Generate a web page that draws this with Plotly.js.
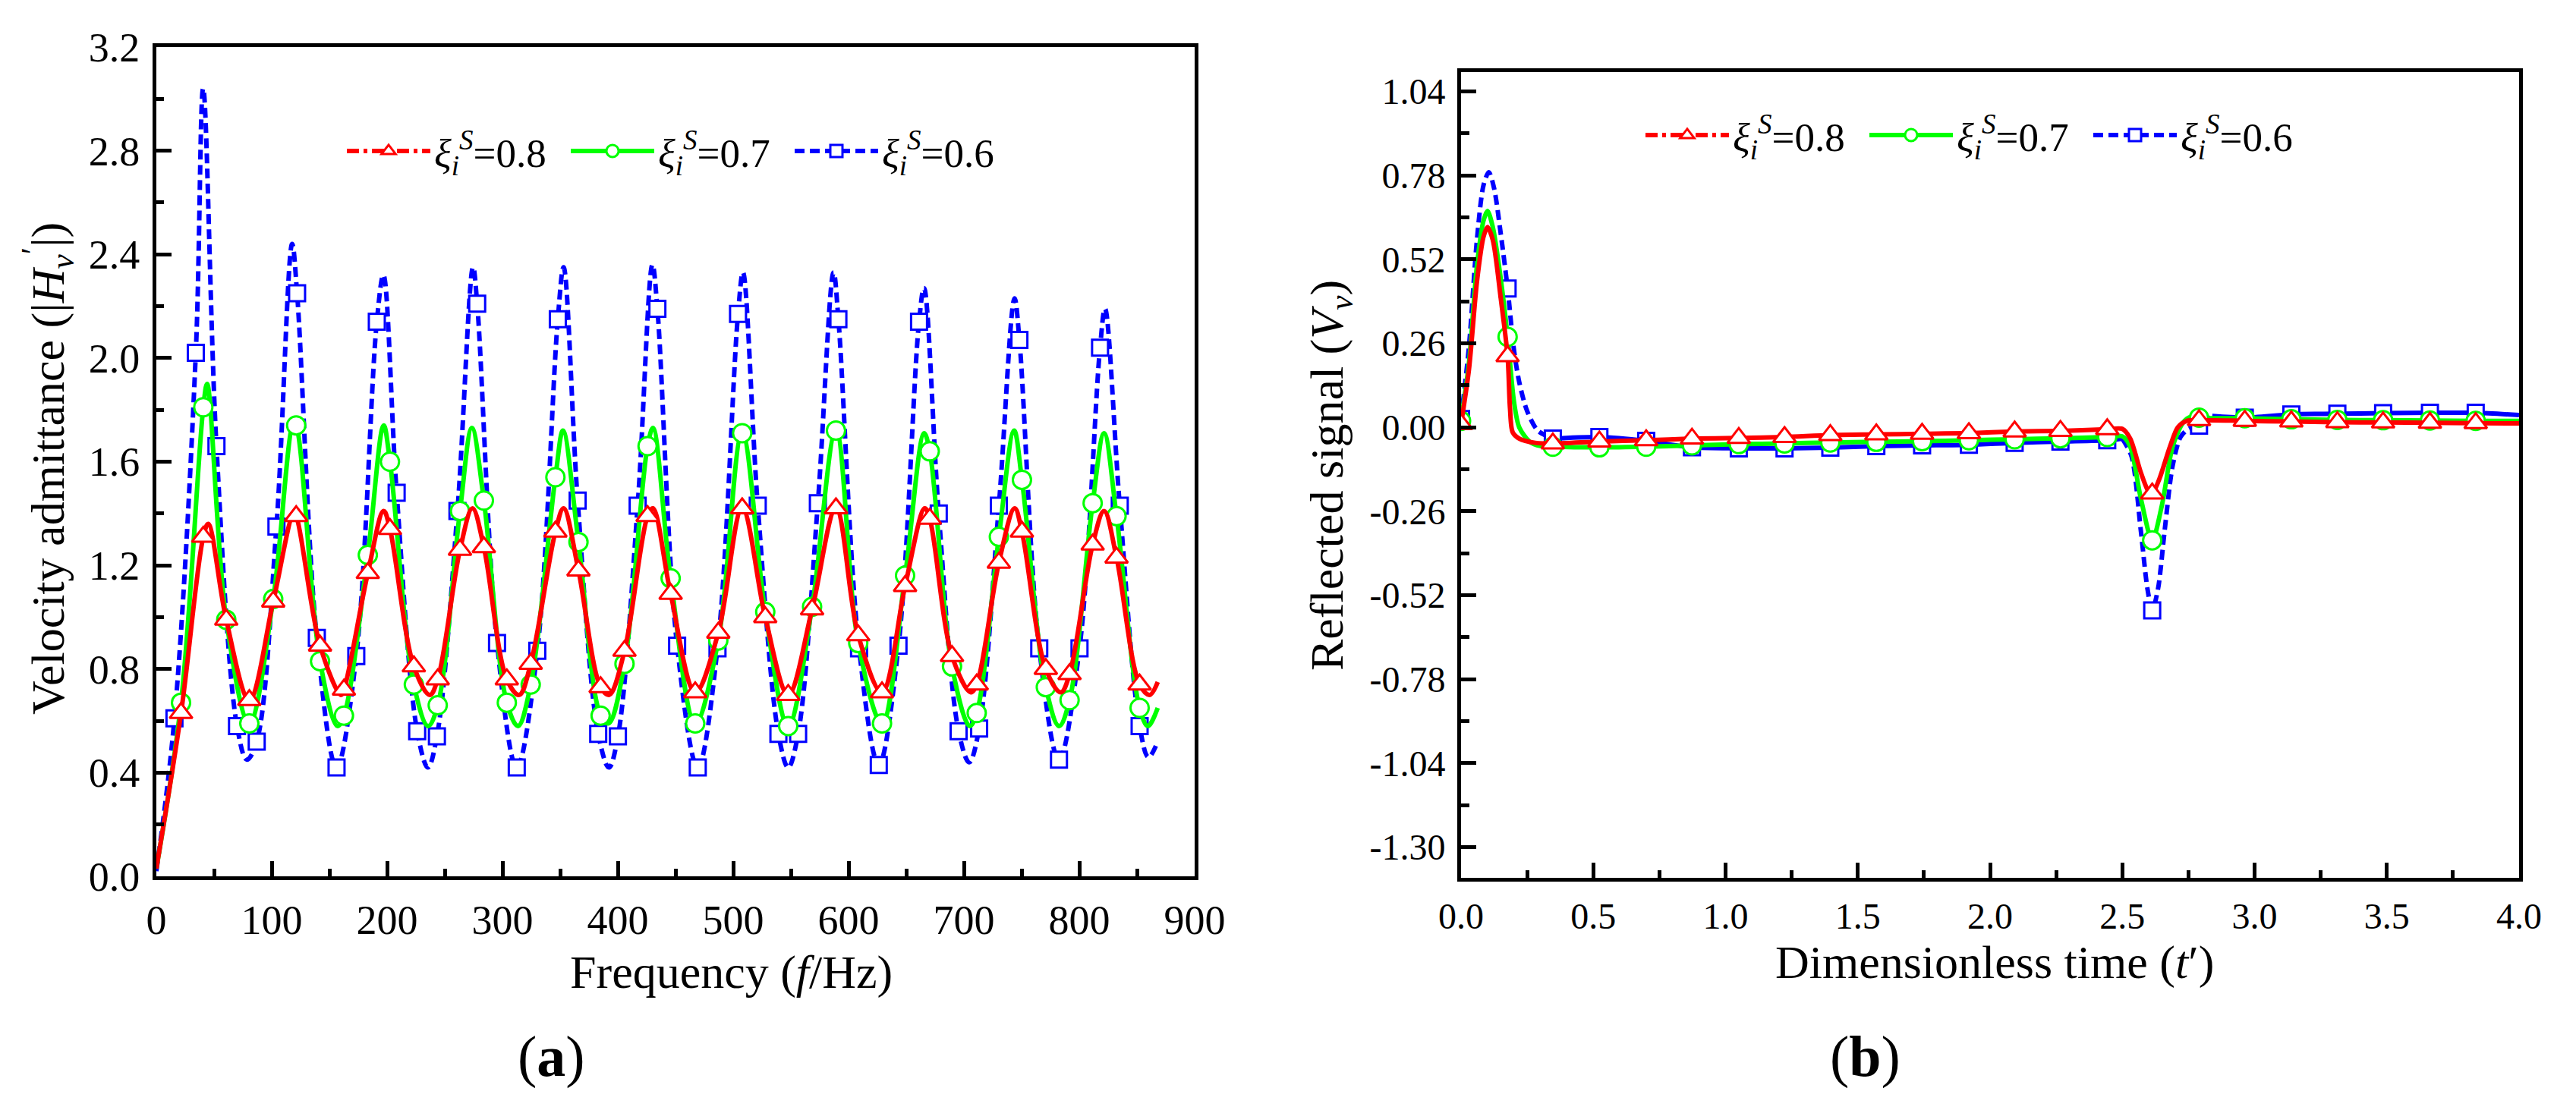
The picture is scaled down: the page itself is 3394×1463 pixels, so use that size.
<!DOCTYPE html>
<html><head><meta charset="utf-8">
<script src="https://cdn.plot.ly/plotly-3.0.1.min.js"></script>
<style>html,body{margin:0;padding:0;background:#fff}</style>
</head><body>
<div id="chart" style="width:3394px;height:1463px"></div>
<script>
// ================= Panel (a): velocity admittance vs frequency =================
const freqMarkRG = [21.4, 40.7, 60.6, 80.6, 101.3, 121.2, 141.9, 162.6, 183.3, 202.5, 223.2, 243.9, 263.2, 283.9, 303.8, 324.5, 345.9, 365.9, 385.1, 405.8, 425.8, 445.8, 467.1, 487.1, 507.8, 527.8, 547.7, 568.4, 589.1, 608.4, 629.0, 649.0, 670.4, 689.7, 711.1, 730.3, 750.3, 771.0, 791.6, 811.6, 832.3, 852.3];
const markRed08 = [0.63, 1.31, 0.99, 0.68, 1.06, 1.39, 0.89, 0.72, 1.17, 1.34, 0.81, 0.76, 1.26, 1.27, 0.76, 0.82, 1.33, 1.18, 0.73, 0.87, 1.39, 1.09, 0.71, 0.94, 1.42, 1.00, 0.70, 1.03, 1.42, 0.93, 0.71, 1.12, 1.38, 0.85, 0.74, 1.21, 1.33, 0.80, 0.78, 1.28, 1.23, 0.74];
const markGreen07 = [0.67, 1.81, 0.99, 0.59, 1.07, 1.74, 0.83, 0.62, 1.24, 1.60, 0.74, 0.66, 1.41, 1.45, 0.67, 0.74, 1.54, 1.29, 0.62, 0.82, 1.66, 1.15, 0.59, 0.91, 1.71, 1.02, 0.58, 1.04, 1.72, 0.90, 0.59, 1.16, 1.64, 0.81, 0.63, 1.31, 1.53, 0.73, 0.68, 1.44, 1.39, 0.65];
const freqMarkBlue = [15.7, 34.2, 52.1, 69.9, 87.0, 104.1, 122.0, 139.1, 156.2, 173.3, 191.1, 208.3, 226.1, 243.2, 261.0, 278.1, 295.3, 312.4, 330.2, 348.0, 365.2, 383.0, 400.1, 417.2, 434.3, 451.4, 469.3, 486.4, 504.2, 521.3, 539.2, 556.3, 573.4, 591.2, 609.1, 626.2, 643.3, 661.1, 678.2, 695.4, 713.2, 730.3, 748.1, 765.3, 782.4, 800.2, 818.0, 835.1, 852.3];
const markBlue06 = [0.61, 2.02, 1.66, 0.58, 0.52, 1.35, 2.25, 0.92, 0.42, 0.85, 2.14, 1.48, 0.56, 0.54, 1.41, 2.21, 0.90, 0.42, 0.87, 2.15, 1.45, 0.55, 0.54, 1.43, 2.19, 0.89, 0.42, 0.88, 2.17, 1.43, 0.55, 0.55, 1.44, 2.15, 0.88, 0.43, 0.89, 2.14, 1.40, 0.56, 0.57, 1.43, 2.07, 0.88, 0.45, 0.88, 2.04, 1.43, 0.58];

// extra points of the curves (peaks, troughs, ends)
const keyFreqRed = [0, 45.0, 119.0, 160.0, 197.0, 237.0, 274.0, 314.5, 353.0, 392.5, 430.5, 666.0, 706.0, 744.0, 784.0, 821.5, 861.0, 868.0];
const keyRed08 = [0.03, 1.36, 1.40, 0.70, 1.41, 0.70, 1.42, 0.70, 1.42, 0.70, 1.42, 1.42, 0.71, 1.42, 0.71, 1.41, 0.70, 0.75];
const keyFreqGreen = [0, 44.0, 119.0, 157.0, 197.0, 235.5, 273.5, 313.5, 352.5, 392.0, 430.5, 665.5, 705.0, 743.5, 782.5, 821.5, 859.5, 868.0];
const keyGreen07 = [0.03, 1.90, 1.75, 0.58, 1.74, 0.58, 1.73, 0.58, 1.72, 0.59, 1.73, 1.71, 0.58, 1.72, 0.58, 1.71, 0.58, 0.65];
const keyFreqBlue = [0, 40.6, 78.5, 117.7, 196.8, 235.4, 274.5, 353.0, 392.3, 430.0, 508.5, 547.7, 587.0, 665.4, 704.6, 743.9, 822.3, 860.0, 868.0];
const keyBlue06 = [0.02, 3.04, 0.45, 2.44, 2.32, 0.42, 2.35, 2.35, 0.42, 2.36, 2.33, 0.42, 2.33, 2.27, 0.44, 2.23, 2.19, 0.46, 0.52];

// ================= Panel (b): reflected signal vs dimensionless time =================
const timeMark = [0.0, 0.176, 0.347, 0.523, 0.700, 0.873, 1.050, 1.223, 1.396, 1.570, 1.743, 1.920, 2.093, 2.266, 2.443, 2.613, 2.790, 2.963, 3.139, 3.313, 3.486, 3.663, 3.836];
const sigMarkRed08 = [0.01, 0.22, -0.05, -0.044, -0.04, -0.035, -0.033, -0.03, -0.024, -0.022, -0.02, -0.018, -0.013, -0.011, -0.006, -0.205, 0.022, 0.02, 0.018, 0.016, 0.015, 0.014, 0.013];
const sigMarkGreen07 = [0.02, 0.28, -0.06, -0.062, -0.06, -0.056, -0.052, -0.05, -0.047, -0.045, -0.043, -0.04, -0.037, -0.034, -0.03, -0.35, 0.03, 0.028, 0.025, 0.023, 0.022, 0.021, 0.02];
const sigMarkBlue06 = [0.026, 0.43, -0.035, -0.03, -0.042, -0.062, -0.065, -0.065, -0.063, -0.058, -0.056, -0.054, -0.048, -0.044, -0.04, -0.567, 0.005, 0.03, 0.04, 0.042, 0.044, 0.045, 0.045];

const keyTimeRed = [0.03, 0.06, 0.085, 0.10, 0.12, 0.15, 0.185, 0.195, 0.22, 0.28, 2.50, 2.53, 2.57, 2.60, 2.64, 2.68, 2.71, 2.745, 4.0];
const keySigRed08 = [0.18, 0.45, 0.59, 0.62, 0.58, 0.40, 0.06, -0.015, -0.035, -0.048, -0.005, -0.035, -0.14, -0.20, -0.16, -0.06, 0.0, 0.02, 0.012];
const keyTimeGreen = [0.03, 0.06, 0.085, 0.10, 0.12, 0.15, 0.20, 0.22, 0.26, 0.30, 2.50, 2.53, 2.57, 2.65, 2.69, 2.73, 2.76, 2.85, 4.0];
const keySigGreen07 = [0.20, 0.50, 0.64, 0.67, 0.62, 0.46, 0.08, 0.0, -0.045, -0.058, -0.028, -0.06, -0.22, -0.24, -0.06, 0.015, 0.033, 0.028, 0.02];
const keyTimeBlue = [0.03, 0.06, 0.085, 0.105, 0.125, 0.15, 0.20, 0.22, 0.25, 0.29, 2.50, 2.535, 2.57, 2.595, 2.635, 2.66, 2.69, 2.72, 2.75, 2.84, 4.0];
const keySigBlue06 = [0.25, 0.58, 0.75, 0.79, 0.74, 0.60, 0.24, 0.14, 0.05, -0.01, -0.035, -0.09, -0.32, -0.50, -0.50, -0.32, -0.12, -0.03, -0.005, 0.035, 0.038];

// tick labels
const tickValsB = [1.04, 0.78, 0.52, 0.26, 0.00, -0.26, -0.52, -0.78, -1.04, -1.30];
const tickTextB = ['1.04', '0.78', '0.52', '0.26', '0.00', '-0.26', '-0.52', '-0.78', '-1.04', '-1.30'];

const legendLabels = [
  '<i>ξ</i><sub><i>i</i></sub><sup><i>S</i></sup>=0.8',
  '<i>ξ</i><sub><i>i</i></sub><sup><i>S</i></sup>=0.7',
  '<i>ξ</i><sub><i>i</i></sub><sup><i>S</i></sup>=0.6'
];

// ================= helpers =================
function mergeSorted(xa, ya, xb, yb) {
  const pts = [];
  xa.forEach((x, i) => pts.push([x, ya[i]]));
  xb.forEach((x, i) => pts.push([x, yb[i]]));
  pts.sort((p, q) => p[0] - q[0]);
  return { x: pts.map(p => p[0]), y: pts.map(p => p[1]) };
}
function slice(c, lo, hi) {
  const x = [], y = [];
  c.x.forEach((v, i) => { if (v >= lo && v <= hi) { x.push(v); y.push(c.y[i]); } });
  return { x, y };
}

const RED = '#FF0000', GREEN = '#00FF00', BLUE = '#0000FF';
const FONT = 'Liberation Serif, Times New Roman, serif';
const BLUE_DASH = '13px,7px';
const RED_DASH = '16px,6px,5px,6px';

const mk = {
  red:   { symbol: 'triangle-up', size: 26, color: '#fff', line: { color: RED, width: 3 } },
  green: { symbol: 'circle', size: 24, color: '#fff', line: { color: GREEN, width: 3 } },
  blue:  { symbol: 'square', size: 21, color: '#fff', line: { color: BLUE, width: 3 } }
};

const traces = [];

// ---- panel a curves ----
const aRed = mergeSorted(freqMarkRG, markRed08, keyFreqRed, keyRed08);
const aGreen = mergeSorted(freqMarkRG, markGreen07, keyFreqGreen, keyGreen07);
const aBlue = mergeSorted(freqMarkBlue, markBlue06, keyFreqBlue, keyBlue06);

traces.push({ x: aBlue.x, y: aBlue.y, xaxis: 'x', yaxis: 'y', mode: 'lines', showlegend: false,
  line: { color: BLUE, width: 6, dash: BLUE_DASH, shape: 'spline', smoothing: 1 } });
traces.push({ x: freqMarkBlue, y: markBlue06, xaxis: 'x', yaxis: 'y', mode: 'markers', showlegend: false, marker: mk.blue });
traces.push({ x: aGreen.x, y: aGreen.y, xaxis: 'x', yaxis: 'y', mode: 'lines', showlegend: false,
  line: { color: GREEN, width: 6, shape: 'spline', smoothing: 1 } });
traces.push({ x: freqMarkRG, y: markGreen07, xaxis: 'x', yaxis: 'y', mode: 'markers', showlegend: false, marker: mk.green });
traces.push({ x: aRed.x, y: aRed.y, xaxis: 'x', yaxis: 'y', mode: 'lines', showlegend: false,
  line: { color: RED, width: 6, shape: 'spline', smoothing: 1 } });
traces.push({ x: freqMarkRG, y: markRed08, xaxis: 'x', yaxis: 'y', mode: 'markers', showlegend: false, marker: mk.red });

// ---- panel b curves ----
const bRed = mergeSorted(timeMark, sigMarkRed08, keyTimeRed, keySigRed08);
const bGreen = mergeSorted(timeMark, sigMarkGreen07, keyTimeGreen, keySigGreen07);
const bBlue = mergeSorted(timeMark, sigMarkBlue06, keyTimeBlue, keySigBlue06);

[[0, 0.35, true], [0.347, 2.50, false], [2.50, 2.84, true], [2.84, 4.0, false]].forEach(seg => {
  const s = slice(bBlue, seg[0], seg[1]);
  traces.push({ x: s.x, y: s.y, xaxis: 'x2', yaxis: 'y2', mode: 'lines', showlegend: false,
    line: { color: BLUE, width: 6, dash: seg[2] ? BLUE_DASH : 'solid', shape: 'spline', smoothing: 0.8 } });
});
traces.push({ x: timeMark, y: sigMarkBlue06, xaxis: 'x2', yaxis: 'y2', mode: 'markers', showlegend: false, marker: mk.blue });
traces.push({ x: bGreen.x, y: bGreen.y, xaxis: 'x2', yaxis: 'y2', mode: 'lines', showlegend: false,
  line: { color: GREEN, width: 6, shape: 'spline', smoothing: 0.8 } });
traces.push({ x: timeMark, y: sigMarkGreen07, xaxis: 'x2', yaxis: 'y2', mode: 'markers', showlegend: false, marker: mk.green });
traces.push({ x: bRed.x, y: bRed.y, xaxis: 'x2', yaxis: 'y2', mode: 'lines', showlegend: false,
  line: { color: RED, width: 6, shape: 'spline', smoothing: 0.8 } });
traces.push({ x: timeMark, y: sigMarkRed08, xaxis: 'x2', yaxis: 'y2', mode: 'markers', showlegend: false, marker: mk.red });

// ---- legend entries (line + marker symbol) ----
[['x', 'y', 'legend'], ['x2', 'y2', 'legend2']].forEach(ax => {
  traces.push({ x: [null], y: [null], xaxis: ax[0], yaxis: ax[1], legend: ax[2], name: legendLabels[0], legendrank: 1,
    mode: 'lines+markers', line: { color: RED, width: 6, dash: RED_DASH }, marker: mk.red });
  traces.push({ x: [null], y: [null], xaxis: ax[0], yaxis: ax[1], legend: ax[2], name: legendLabels[1], legendrank: 2,
    mode: 'lines+markers', line: { color: GREEN, width: 6 }, marker: mk.green });
  traces.push({ x: [null], y: [null], xaxis: ax[0], yaxis: ax[1], legend: ax[2], name: legendLabels[2], legendrank: 3,
    mode: 'lines+markers', line: { color: BLUE, width: 6, dash: BLUE_DASH }, marker: mk.blue });
});

const W = 3394, H = 1463;
const px = v => v / W, py = v => 1 - v / H;

function axis(extra) {
  return Object.assign({
    showline: true, linewidth: 5, linecolor: '#000', mirror: true,
    ticks: 'inside', ticklen: 20, tickwidth: 5, tickcolor: '#000',
    showgrid: false, zeroline: false, fixedrange: true,
    tickfont: { family: FONT, size: 54, color: '#000' }
  }, extra);
}
const minorTick = (d, t0) => ({ ticks: 'inside', ticklen: 10, tickwidth: 5, tickcolor: '#000', dtick: d, tick0: t0, showgrid: false });

const legendCommon = {
  orientation: 'h', bgcolor: 'rgba(0,0,0,0)', borderwidth: 0,
  font: { family: FONT, size: 53, color: '#000' },
  itemwidth: 110, entrywidth: 170, xanchor: 'left', yanchor: 'middle', traceorder: 'normal'
};

const layout = {
  width: W, height: H,
  margin: { l: 0, r: 0, t: 0, b: 0 },
  paper_bgcolor: '#fff', plot_bgcolor: '#fff',
  font: { family: FONT, color: '#000' },
  showlegend: true,
  xaxis: axis({ domain: [px(206), px(1574)], range: [0, 900], tick0: 0, dtick: 100, anchor: 'y',
    minor: minorTick(50, 0), ticklabelstandoff: 6 }),
  yaxis: axis({ domain: [py(1155), py(62)], range: [0, 3.2], tick0: 0, dtick: 0.4, tickformat: '.1f', anchor: 'x',
    minor: minorTick(0.2, 0), ticklabelstandoff: 6 }),
  xaxis2: axis({ domain: [px(1925), px(3319)], range: [0, 4], tick0: 0, dtick: 0.5, tickformat: '.1f', anchor: 'y2',
    minor: minorTick(0.25, 0), ticklabelstandoff: 4, tickfont: { family: FONT, size: 48, color: '#000' } }),
  yaxis2: axis({ domain: [py(1157), py(95)], range: [-1.395, 1.10], tickmode: 'array', tickvals: tickValsB, ticktext: tickTextB,
    anchor: 'x2', minor: { ticks: 'inside', ticklen: 11, tickwidth: 5, tickcolor: '#000', tickmode: 'linear', tick0: 0.13, dtick: 0.26 },
    ticklabelstandoff: 6, tickfont: { family: FONT, size: 48, color: '#000' } }),
  legend: Object.assign({}, legendCommon, { x: px(452), y: py(199) }),
  legend2: Object.assign({}, legendCommon, { x: px(2163), y: py(178) }),
  annotations: [
    { text: 'Frequency (<i>f</i>/Hz)', x: px(963), y: py(1281), xref: 'paper', yref: 'paper', showarrow: false,
      xanchor: 'center', yanchor: 'middle', font: { family: FONT, size: 62, color: '#000' } },
    { text: 'Velocity admittance (|<i>H</i><sub><i>v</i></sub><sup>′</sup>|)', x: px(62), y: py(618), xref: 'paper', yref: 'paper',
      showarrow: false, textangle: -90, xanchor: 'center', yanchor: 'middle', font: { family: FONT, size: 62, color: '#000' } },
    { text: '(<b>a</b>)', x: px(726), y: py(1392), xref: 'paper', yref: 'paper', showarrow: false,
      xanchor: 'center', yanchor: 'middle', font: { family: FONT, size: 76, color: '#000' } },
    { text: 'Dimensionless time (<i>t</i>′)', x: px(2628), y: py(1268), xref: 'paper', yref: 'paper', showarrow: false,
      xanchor: 'center', yanchor: 'middle', font: { family: FONT, size: 62, color: '#000' } },
    { text: 'Reflected signal (<i>V</i><sub><i>v</i></sub>)', x: px(1752), y: py(626), xref: 'paper', yref: 'paper',
      showarrow: false, textangle: -90, xanchor: 'center', yanchor: 'middle', font: { family: FONT, size: 62, color: '#000' } },
    { text: '(<b>b</b>)', x: px(2457), y: py(1392), xref: 'paper', yref: 'paper', showarrow: false,
      xanchor: 'center', yanchor: 'middle', font: { family: FONT, size: 76, color: '#000' } }
  ]
};

Plotly.newPlot('chart', traces, layout, { displayModeBar: false, staticPlot: true });
</script>
</body></html>
